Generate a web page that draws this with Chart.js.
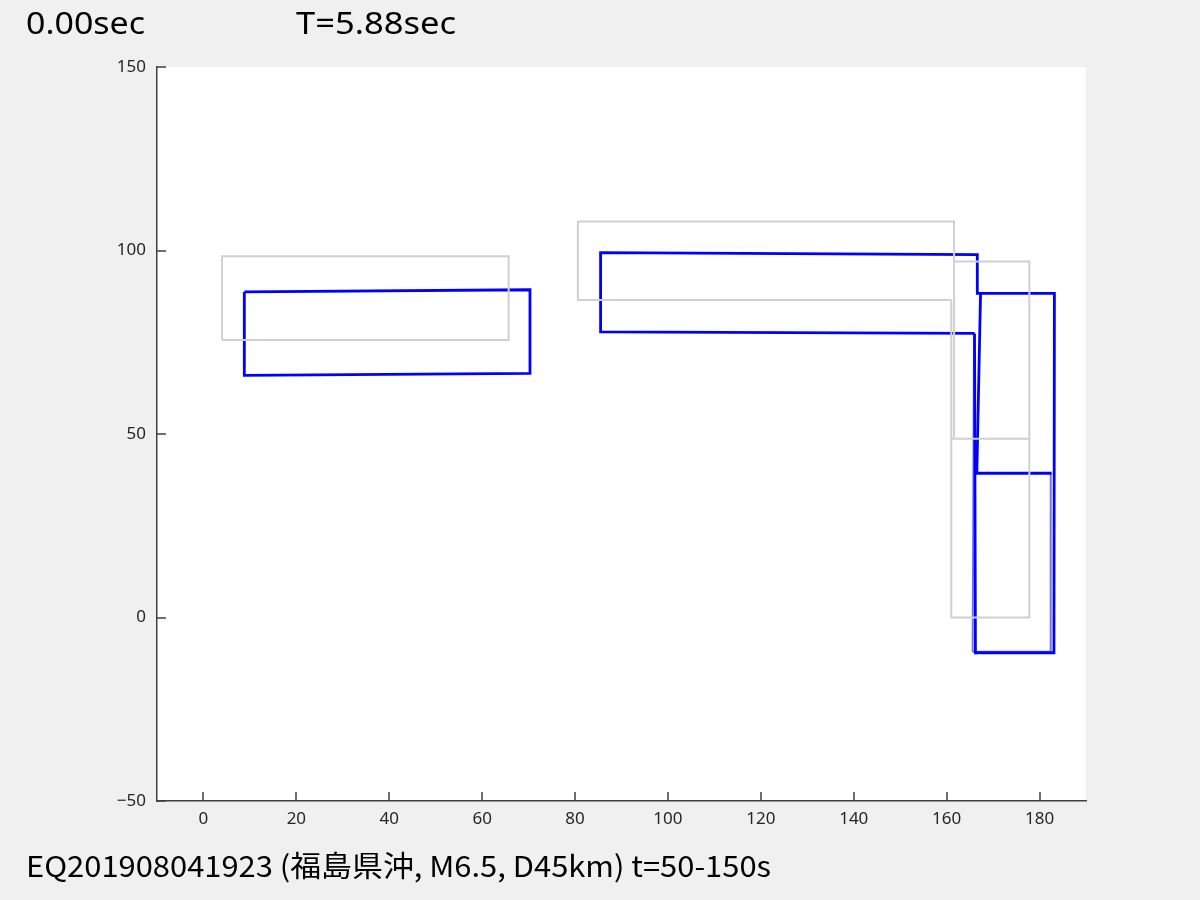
<!DOCTYPE html>
<html>
<head>
<meta charset="utf-8">
<script src="https://cdn.jsdelivr.net/npm/chart.js@4.4.1/dist/chart.umd.min.js"></script>
<style>
  html, body { margin: 0; padding: 0; background: #f0f0f0; }
  #wrap { position: relative; width: 1200px; height: 900px; overflow: hidden; }
  #chart { position: absolute; left: 0; top: 0; }
  .lbl { position: absolute; white-space: nowrap; color: #000; line-height: 1; transform-origin: left top; }
  .top { font-family: "Noto Sans", sans-serif; font-size: 30px; top: 8px; }
  .bottom { font-family: "Noto Sans CJK JP", "Noto Sans", sans-serif; font-size: 29px; top: 850px; }
</style>
</head>
<body>
<div id="wrap">
  <canvas id="chart" width="1200" height="900"></canvas>
  <span class="lbl top" style="left:26px" data-w="119">0.00sec</span>
  <span class="lbl top" style="left:296px" data-w="160">T=5.88sec</span>
  <span class="lbl bottom" style="left:26px" data-w="745">EQ201908041923 (福島県沖, M6.5, D45km) t=50-150s</span>
</div>
<script>
// axis ticks
const xTicks = [0, 20, 40, 60, 80, 100, 120, 140, 160, 180];
const yTicks = [-50, 0, 50, 100, 150];

// undeformed frame (gray)
const grayA = [[4, 75.6], [65.7, 75.6], [65.7, 98.4], [4, 98.4], [4, 75.6]];
const grayB = [[161, 86.5], [80.6, 86.5], [80.6, 107.9], [161.6, 107.9], [161.6, 48.7]];
const grayC = [[161.6, 97], [177.8, 97], [177.8, 0], [161, 0], [161, 86.5]];
const grayMid = [[161, 48.7], [177.8, 48.7]];

// deformed frame (blue)
const blueA = [[8.8, 88.7], [70.3, 89.3], [70.3, 66.5], [8.8, 66.0], [8.8, 88.7]];
const blueB = [[166.0, 77.4], [85.5, 77.8], [85.5, 99.4], [166.6, 98.9], [166.6, 88.3], [183.2, 88.3], [183.1, -9.6], [166.2, -9.6], [166.0, 77.4]];
const blueC = [[167.3, 88.3], [166.5, 39.3], [182.6, 39.3]];
// second, fainter pass of the tower
const blueD = [[165.6, -9.3], [182.3, -9.3], [182.4, 39.3]];
const blueE = [[165.9, 77.3], [165.6, -9.3]];

const toPts = (arr) => arr.map((p) => ({ x: p[0], y: p[1] }));
const gray = "#d0d0d0";
const blue = "#0000ff";

const mk = (arr, color, w) => ({
  data: toPts(arr),
  showLine: true,
  borderColor: color,
  borderWidth: w,
  pointRadius: 0,
  fill: false,
  tension: 0,
});

const datasets = [
  mk(grayA, gray, 2), mk(grayB, gray, 2), mk(grayC, gray, 2), mk(grayMid, gray, 2),
  mk(blueD, "rgba(0,0,255,0.55)", 2), mk(blueE, "rgba(0,0,255,0.55)", 2),
  mk(blueA, blue, 2.8), mk(blueB, blue, 2.8), mk(blueC, blue, 2.8),
];

const fmt = (v) => (v < 0 ? "\u2212" + Math.abs(v) : String(v));

const frame = {
  id: "frame",
  beforeDraw(chart) {
    const { ctx, chartArea: a } = chart;
    ctx.save();
    ctx.fillStyle = "#ffffff";
    ctx.fillRect(a.left, a.top, a.right - a.left, a.bottom - a.top);
    ctx.restore();
  },
  afterDraw(chart) {
    const { ctx, chartArea: a, scales } = chart;
    ctx.save();
    ctx.strokeStyle = "#404040";
    ctx.lineWidth = 1.5;
    ctx.beginPath();
    xTicks.forEach((v) => {
      const px = Math.round(scales.x.getPixelForValue(v));
      ctx.moveTo(px, a.bottom);
      ctx.lineTo(px, a.bottom - 9);
    });
    yTicks.forEach((v) => {
      const py = Math.round(scales.y.getPixelForValue(v));
      ctx.moveTo(a.left, py);
      ctx.lineTo(a.left + 9, py);
    });
    ctx.stroke();
    ctx.restore();
  },
};

new Chart(document.getElementById("chart"), {
  type: "scatter",
  data: { datasets },
  plugins: [frame],
  options: {
    responsive: false,
    animation: false,
    layout: { padding: { top: 67, right: 114, bottom: 0, left: 0 } },
    plugins: { legend: { display: false }, tooltip: { enabled: false } },
    scales: {
      x: {
        type: "linear",
        min: -10,
        max: 190,
        afterBuildTicks: (s) => { s.ticks = xTicks.map((v) => ({ value: v })); },
        afterFit: (s) => { s.height = 99; },
        grid: { display: false },
        border: { display: true, color: "#404040", width: 1.5 },
        ticks: { color: "#262626", font: { family: "Noto Sans", size: 17 }, padding: 0, maxRotation: 0, callback: fmt },
      },
      y: {
        type: "linear",
        min: -50,
        max: 150,
        afterBuildTicks: (s) => { s.ticks = yTicks.map((v) => ({ value: v })); },
        afterFit: (s) => { s.width = 157; },
        grid: { display: false },
        border: { display: true, color: "#404040", width: 1.5 },
        ticks: { color: "#262626", font: { family: "Noto Sans", size: 17 }, padding: 3, callback: fmt },
      },
    },
  },
});

// stretch the captions to the widths seen in the figure
document.fonts.ready.then(() => {
  document.querySelectorAll(".lbl").forEach((el) => {
    const w = el.getBoundingClientRect().width;
    const target = Number(el.dataset.w);
    if (w > 0) el.style.transform = `scaleX(${target / w})`;
  });
});
</script>
</body>
</html>
